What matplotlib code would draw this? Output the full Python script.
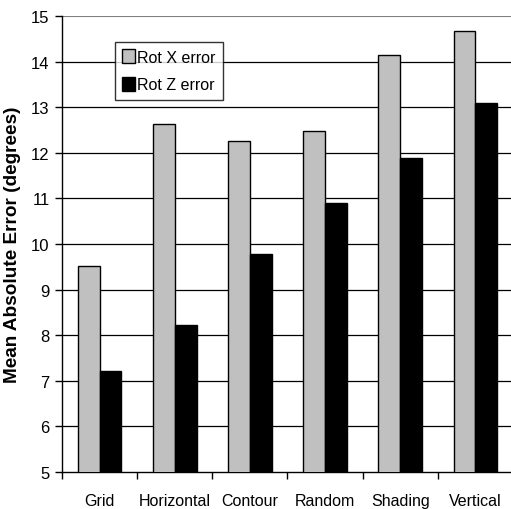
import matplotlib
matplotlib.use("Agg")
import matplotlib.pyplot as plt
import numpy as np

categories = ["Grid", "Horizontal", "Contour", "Random", "Shading", "Vertical"]
rot_x = [9.52, 12.64, 12.26, 12.48, 14.14, 14.67]
rot_z = [7.21, 8.22, 9.78, 10.90, 11.89, 13.09]
y_ticks = [5, 6, 7, 8, 9, 10, 11, 12, 13, 14, 15]

plt.rcParams['font.family'] = ['Liberation Sans', 'DejaVu Sans']

fig = plt.figure(figsize=(5.11, 5.10), dpi=100)
ax = fig.add_axes([62/511, 1 - 473/510, (513 - 62)/511, (473 - 17)/510])

x = np.arange(len(categories))
w = 0.29
ax.bar(x - w/2, rot_x, w, color='#c0c0c0', edgecolor='black', linewidth=1.0,
       label='Rot X error', zorder=3)
ax.bar(x + w/2, rot_z, w, color='black', edgecolor='black', linewidth=1.0,
       label='Rot Z error', zorder=3)

ax.set_ylim(5, 15)
ax.set_xlim(-0.5, len(categories) - 0.5)
ax.set_yticks(y_ticks)
ax.set_yticklabels([str(t) for t in y_ticks], fontsize=12)
for t in y_ticks[1:-1]:
    ax.axhline(t, color='black', linewidth=0.9, zorder=1)
ax.axhline(15, color='#808080', linewidth=1.5, zorder=1)

ax.set_xticks(np.arange(-0.5, len(categories), 1.0))
ax.set_xticklabels([])
ax.set_xticks(x, minor=True)
ax.set_xticklabels(categories, minor=True, fontsize=11.5)
ax.tick_params(axis='x', which='minor', length=0, pad=15)
ax.tick_params(axis='x', which='major', length=5, width=1, direction='out')
ax.tick_params(axis='y', length=5, width=1, direction='out', pad=4)

for s in ['top', 'right']:
    ax.spines[s].set_visible(False)
ax.spines['left'].set_linewidth(1.0)
ax.spines['bottom'].set_linewidth(1.0)

ax.set_ylabel('Mean Absolute Error (degrees)', fontsize=13.7, fontweight='bold', labelpad=7)

leg = ax.legend(loc='upper left', bbox_to_anchor=((115 - 62)/451, (473 - 43)/456),
                frameon=True, fancybox=False, edgecolor='black',
                prop={'size': 11.5},
                handlelength=0.8, handleheight=1.0, handletextpad=0.15,
                borderpad=0.45, labelspacing=0.75, borderaxespad=0)
leg.get_frame().set_linewidth(1.0)
leg.set_zorder(5)

fig.savefig('out.png', dpi=100)
